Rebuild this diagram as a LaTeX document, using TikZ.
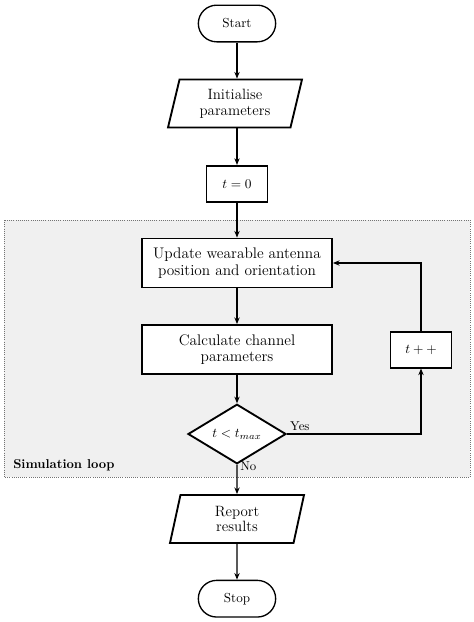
\documentclass[tikz,border=0pt]{standalone}
\usetikzlibrary{shapes.geometric,shapes.misc,arrows.meta}
\begin{document}
\begin{tikzpicture}[x=0.75pt,y=-0.75pt,
  term/.style={rounded rectangle,draw,line width=1pt,minimum width=60pt,minimum height=27.5pt,inner sep=1pt,font=\fontsize{9.8}{11}\selectfont},
  io/.style={trapezium,trapezium left angle=70,trapezium right angle=110,trapezium stretches body,draw,line width=1.4pt,minimum width=100.5pt,minimum height=36pt,inner sep=1pt,align=center,font=\fontsize{11.2}{11.8}\selectfont},
  proc/.style={rectangle,draw,line width=1.4pt,minimum width=142.5pt,minimum height=36.75pt,inner sep=1pt,align=center,fill=white,font=\fontsize{11.5}{12.5}\selectfont},
  small/.style={rectangle,draw,line width=1.2pt,minimum width=45.75pt,minimum height=27pt,inner sep=1pt,fill=white,font=\fontsize{9.7}{11}\selectfont},
  decision/.style={diamond,draw,line width=1.4pt,minimum width=73.5pt,minimum height=35.25pt,inner sep=0pt,fill=white,font=\fontsize{10}{11}\selectfont},
  conn/.style={line width=0.9pt,-{Stealth[length=5pt,width=4pt]}},
  lbl/.style={inner sep=2pt,font=\fontsize{9.6}{11}\selectfont}
]
\useasboundingbox (0,0) rectangle (474,622);
\fill[black!6] (4,220) rectangle (470,477);
\draw[densely dotted,black!55,line width=0.6pt] (4,220) rectangle (470,477);
\node[term] (start) at (237,23.5) {Start};
\node[io] (init) at (235,103.5) {Initialise\\parameters};
\node[small] (t0) at (237,183.7) {$t=0$};
\node[proc] (upd) at (237,263) {Update wearable antenna\\position and orientation};
\node[proc] (calc) at (237,349.5) {Calculate channel\\parameters};
\node[decision] (dec) at (237,434) {$t<t_{max}$};
\node[small] (tpp) at (421,349.7) {$t++$};
\node[io,fill=white] (rep) at (237,519) {Report\\results};
\node[term] (stop) at (237,598.7) {Stop};
\node[anchor=west,inner sep=0pt,font=\fontsize{9.6}{11}\selectfont\bfseries] (sim) at (13,465) {Simulation loop};
\draw[conn] (start.south) -- (start.south |- init.north);
\draw[conn] (t0.north |- init.south) -- (t0.north);
\draw[conn] (t0) -- (upd);
\draw[conn] (upd) -- (calc);
\draw[conn] (calc) -- (dec);
\draw[conn] (dec) -- node[pos=0.05,right,lbl] {No} (rep);
\draw[conn] (rep) -- (stop);
\draw[conn] (dec.east) -- node[pos=0,above right,lbl] {Yes} (dec.east -| tpp.south) -- (tpp.south);
\draw[conn] (tpp.north) |- (upd.east);
\end{tikzpicture}
\end{document}
